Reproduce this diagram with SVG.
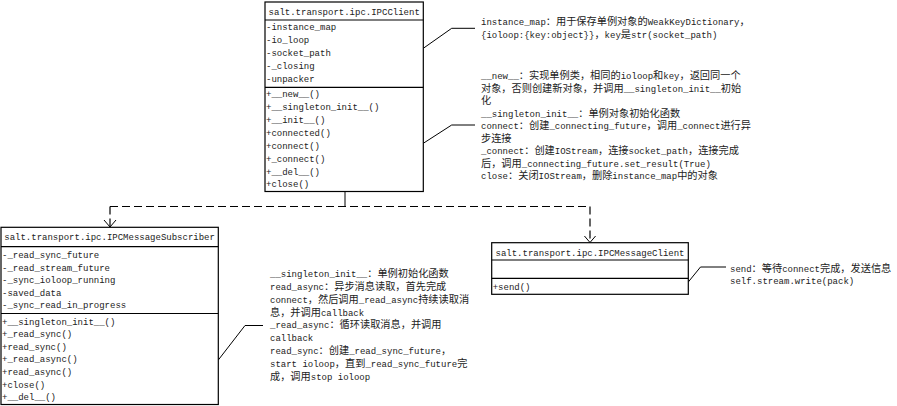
<svg xmlns="http://www.w3.org/2000/svg" width="897" height="406" viewBox="0 0 897 406">
<defs>
<style>
.box{fill:#fff;stroke:#000;stroke-width:1.2}
.sep{stroke:#000;stroke-width:1.2}
.t{font-family:"Liberation Mono","Noto Sans CJK SC",monospace;font-size:9px;fill:#222}
.h{text-anchor:middle}
.z{font-family:"Noto Sans CJK SC","Liberation Mono",sans-serif;font-size:10.2px}
.ln{fill:none;stroke:#000;stroke-width:1}
.dash{fill:none;stroke:#000;stroke-width:1.2;stroke-dasharray:8 4}
</style>
<marker id="open" markerWidth="14" markerHeight="14" refX="7" refY="7" orient="auto" markerUnits="userSpaceOnUse">
<path d="M0,1 L7,7 L0,13" fill="none" stroke="#000" stroke-width="1"/>
</marker>
</defs>
<rect width="897" height="406" fill="#fff"/>

<g id="connectors">
<line class="ln" x1="345" y1="191.5" x2="345" y2="207" stroke-width="1.2"/>
<line class="dash" x1="110" y1="206.5" x2="590" y2="206.5"/>
<line class="dash" x1="110" y1="206.5" x2="110" y2="227" marker-end="url(#open)"/>
<line class="dash" x1="590" y1="206.5" x2="590" y2="242.5" marker-end="url(#open)"/>
<polyline class="ln" points="423.3,48.3 451.7,28.3 475,28.3"/>
<polyline class="ln" points="423.3,143.3 451.7,125 475,125"/>
<polyline class="ln" points="218.3,360 245,325.5 263,325.5"/>
<polyline class="ln" points="688.3,282 700.5,267 726,267"/>
</g>

<g id="IPCClient">
<rect class="box" x="265" y="2" width="158.3" height="189.5"/>
<line class="sep" x1="265" y1="20" x2="423.3" y2="20"/>
<line class="sep" x1="265" y1="87.3" x2="423.3" y2="87.3"/>
<text class="t h" x="344.2" y="14.5">salt.transport.ipc.IPCClient</text>
<text class="t" x="266" y="30">-instance_map</text>
<text class="t" x="266" y="43">-io_loop</text>
<text class="t" x="266" y="56">-socket_path</text>
<text class="t" x="266" y="69">-_closing</text>
<text class="t" x="266" y="82">-unpacker</text>
<text class="t" x="266" y="97">+__new__()</text>
<text class="t" x="266" y="110">+__singleton_init__()</text>
<text class="t" x="266" y="123">+__init__()</text>
<text class="t" x="266" y="136">+connected()</text>
<text class="t" x="266" y="148.5">+connect()</text>
<text class="t" x="266" y="161.5">+_connect()</text>
<text class="t" x="266" y="174.5">+__del__()</text>
<text class="t" x="266" y="187">+close()</text>
</g>

<g id="IPCMessageSubscriber">
<rect class="box" x="1" y="227.3" width="217.3" height="177.2"/>
<line class="sep" x1="1" y1="246.7" x2="218.3" y2="246.7"/>
<line class="sep" x1="1" y1="313.5" x2="218.3" y2="313.5"/>
<text class="t h" x="109.6" y="240.2">salt.transport.ipc.IPCMessageSubscriber</text>
<text class="t" x="2" y="258">-_read_sync_future</text>
<text class="t" x="2" y="270.5">-_read_stream_future</text>
<text class="t" x="2" y="283">-_sync_ioloop_running</text>
<text class="t" x="2" y="295.5">-saved_data</text>
<text class="t" x="2" y="308">-_sync_read_in_progress</text>
<text class="t" x="2" y="324.5">+__singleton_init__()</text>
<text class="t" x="2" y="337.1">+_read_sync()</text>
<text class="t" x="2" y="349.7">+read_sync()</text>
<text class="t" x="2" y="362.3">+_read_async()</text>
<text class="t" x="2" y="374.9">+read_async()</text>
<text class="t" x="2" y="387.5">+close()</text>
<text class="t" x="2" y="400.1">+__del__()</text>
</g>

<g id="IPCMessageClient">
<rect class="box" x="491.7" y="242.7" width="196.6" height="51.6"/>
<line class="sep" x1="491.7" y1="260" x2="688.3" y2="260"/>
<line class="sep" x1="491.7" y1="278.3" x2="688.3" y2="278.3"/>
<text class="t h" x="590" y="255.8">salt.transport.ipc.IPCMessageClient</text>
<text class="t" x="492.7" y="289.5">+send()</text>
</g>

<g id="note-ipcclient-attrs">
<text class="t" x="481" y="25">instance_map<tspan class="z">：用于保存单例对象的</tspan>WeakKeyDictionary<tspan class="z">，</tspan></text>
<text class="t" x="481" y="37.5">{ioloop:{key:object}}<tspan class="z">，</tspan>key<tspan class="z">是</tspan>str(socket_path)</text>
</g>

<g id="note-ipcclient-methods">
<text class="t" x="481" y="79.3">__new__<tspan class="z">：实现单例类，相同的</tspan>ioloop<tspan class="z">和</tspan>key<tspan class="z">，返回同一个</tspan></text>
<text class="t" x="481" y="91.8"><tspan class="z">对象，否则创建新对象，并调用</tspan>__singleton_init__<tspan class="z">初始</tspan></text>
<text class="t" x="481" y="104.3"><tspan class="z">化</tspan></text>
<text class="t" x="481" y="116.8">__singleton_init__<tspan class="z">：单例对象初始化函数</tspan></text>
<text class="t" x="481" y="129.3">connect<tspan class="z">：创建</tspan>_connecting_future<tspan class="z">，调用</tspan>_connect<tspan class="z">进行异</tspan></text>
<text class="t" x="481" y="141.8"><tspan class="z">步连接</tspan></text>
<text class="t" x="481" y="154.3">_connect<tspan class="z">：创建</tspan>IOStream<tspan class="z">，连接</tspan>socket_path<tspan class="z">，连接完成</tspan></text>
<text class="t" x="481" y="166.8"><tspan class="z">后，调用</tspan>_connecting_future.set_result(True)</text>
<text class="t" x="481" y="179.3">close<tspan class="z">：关闭</tspan>IOStream<tspan class="z">，删除</tspan>instance_map<tspan class="z">中的对象</tspan></text>
</g>

<g id="note-subscriber">
<text class="t" x="270" y="276.8">__singleton_init__<tspan class="z">：单例初始化函数</tspan></text>
<text class="t" x="270" y="289.7">read_async<tspan class="z">：异步消息读取，首先完成</tspan></text>
<text class="t" x="270" y="302.6">connect<tspan class="z">，然后调用</tspan>_read_async<tspan class="z">持续读取消</tspan></text>
<text class="t" x="270" y="315.5"><tspan class="z">息，并调用</tspan>callback</text>
<text class="t" x="270" y="328.4">_read_async<tspan class="z">：循环读取消息，并调用</tspan></text>
<text class="t" x="270" y="341.3">callback</text>
<text class="t" x="270" y="354.2">read_sync<tspan class="z">：创建</tspan>_read_sync_future<tspan class="z">，</tspan></text>
<text class="t" x="270" y="367.1">start ioloop<tspan class="z">，直到</tspan>_read_sync_future<tspan class="z">完</tspan></text>
<text class="t" x="270" y="380"><tspan class="z">成，调用</tspan>stop ioloop</text>
</g>

<g id="note-messageclient">
<text class="t" x="730" y="271.5">send<tspan class="z">：等待</tspan>connect<tspan class="z">完成，发送信息</tspan></text>
<text class="t" x="730" y="284">self.stream.write(pack)</text>
</g>
</svg>
